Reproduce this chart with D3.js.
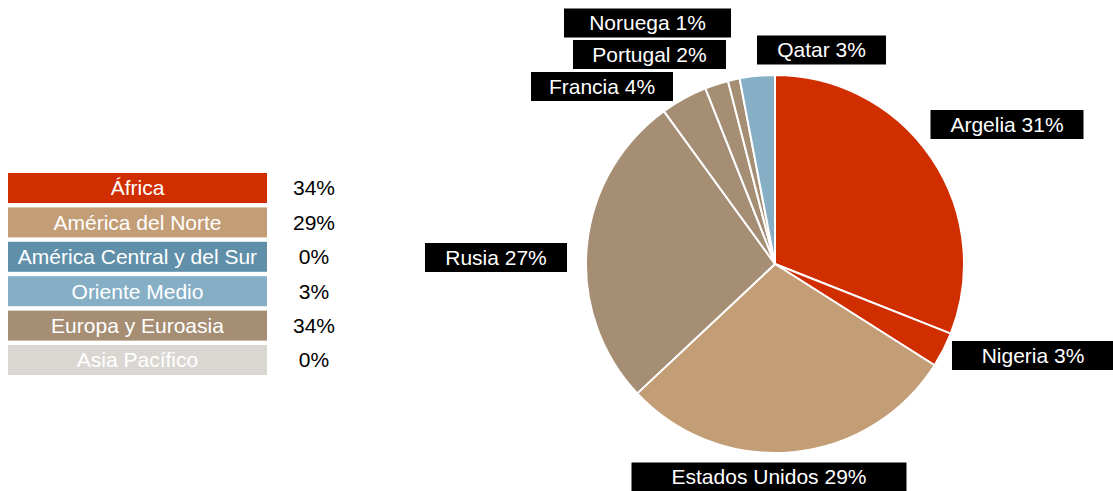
<!DOCTYPE html>
<html>
<head>
<meta charset="utf-8">
<script src="https://cdn.jsdelivr.net/npm/d3@7"></script>
<style>
  html, body { margin: 0; padding: 0; background: #fff; }
  svg { display: block; font-family: "Liberation Sans", Arial, sans-serif; }
</style>
</head>
<body>
<svg id="chart" width="1113" height="491"></svg>
<script>
// Regional shares (legend)
const regions = ["África", "América del Norte", "América Central y del Sur", "Oriente Medio", "Europa y Euroasia", "Asia Pacífico"];
const regionShares = [34, 29, 0, 3, 34, 0];
const regionColors = ["#d12e00", "#c39d76", "#5f8fa9", "#86afc6", "#a68e74", "#dad7d2"];

// Country shares (pie), clockwise from 12 o'clock
const countries = ["Argelia", "Nigeria", "Estados Unidos", "Rusia", "Francia", "Portugal", "Noruega", "Qatar"];
const countryShares = [31, 3, 29, 27, 4, 2, 1, 3];
const countryRegion = ["África", "África", "América del Norte", "Europa y Euroasia", "Europa y Euroasia", "Europa y Euroasia", "Europa y Euroasia", "Oriente Medio"];

const svg = d3.select("#chart");
const color = d3.scaleOrdinal().domain(regions).range(regionColors);
const FONT = 21;

// ---- Legend ----
const legendY = d3.scaleBand().domain(regions).range([173, 375]).paddingInner(0.128).paddingOuter(0);
const legend = svg.append("g");
const rows = legend.selectAll("g").data(regions).join("g")
  .attr("transform", d => `translate(0,${legendY(d)})`);
rows.append("rect")
  .attr("x", 8).attr("width", 259)
  .attr("height", legendY.bandwidth())
  .attr("fill", d => color(d));
rows.append("text")
  .attr("x", 8 + 259 / 2).attr("y", legendY.bandwidth() / 2)
  .attr("dy", "0.35em").attr("text-anchor", "middle")
  .attr("fill", "#fff").attr("font-size", FONT)
  .text(d => d);
rows.append("text")
  .attr("x", 314).attr("y", legendY.bandwidth() / 2)
  .attr("dy", "0.35em").attr("text-anchor", "middle")
  .attr("fill", "#000").attr("font-size", FONT)
  .text((d, i) => regionShares[i] + "%");

// ---- Pie ----
const cx = 775, cy = 264, radius = 189;
const pie = d3.pie().sort(null).value(d => d.v);
const arcs = pie(countries.map((c, i) => ({ c, v: countryShares[i], r: countryRegion[i] })));
const arc = d3.arc().innerRadius(0).outerRadius(radius);

const pg = svg.append("g").attr("transform", `translate(${cx},${cy})`);
pg.selectAll("path").data(arcs).join("path")
  .attr("d", arc)
  .attr("fill", d => color(d.data.r))
  .attr("stroke", "#fff").attr("stroke-width", 2).attr("stroke-linejoin", "round");

// Data labels: black boxes with white text
const labelPos = {
  "Argelia":        [1007, 124.5],
  "Nigeria":        [1033, 355.5],
  "Estados Unidos": [769, 477],
  "Rusia":          [496, 257.5],
  "Francia":        [602, 86.5],
  "Portugal":       [649.5, 54.5],
  "Noruega":        [647.5, 23],
  "Qatar":          [821.5, 50]
};
const labelBox = {
  "Argelia": 153, "Nigeria": 162, "Estados Unidos": 275, "Rusia": 142,
  "Francia": 142, "Portugal": 153, "Noruega": 167, "Qatar": 129
};
const lg = svg.append("g");
const labels = lg.selectAll("g").data(arcs).join("g")
  .attr("transform", d => `translate(${labelPos[d.data.c][0]},${labelPos[d.data.c][1]})`);
labels.append("rect")
  .attr("x", d => -labelBox[d.data.c] / 2).attr("y", -14.5)
  .attr("width", d => labelBox[d.data.c]).attr("height", 29)
  .attr("fill", "#000");
labels.append("text")
  .attr("text-anchor", "middle").attr("dy", "0.35em")
  .attr("fill", "#fff").attr("font-size", FONT)
  .text(d => `${d.data.c} ${d.data.v}%`);
</script>
</body>
</html>
